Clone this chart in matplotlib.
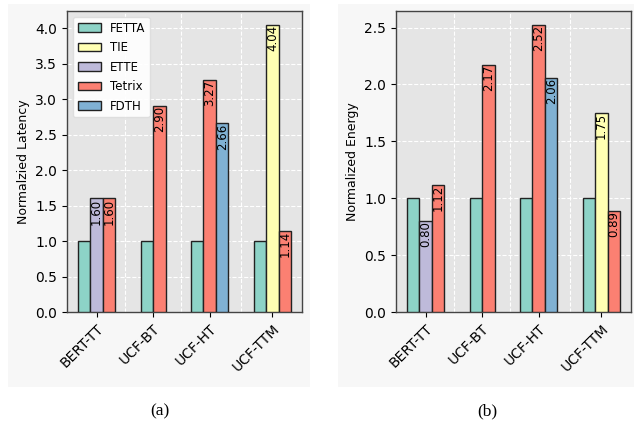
import matplotlib
matplotlib.use("Agg")
import matplotlib.pyplot as plt
import numpy as np
from matplotlib.patches import Rectangle

categories = ["BERT-TT", "UCF-BT", "UCF-HT", "UCF-TTM"]
series = ["FETTA", "TIE", "ETTE", "Tetrix", "FDTH"]
colors = ["#8dd3c7", "#ffffb3", "#bebada", "#fb8072", "#80b1d3"]

# None = no bar for that method on that workload
latency = {
    "FETTA":  [1.00, 1.00, 1.00, 1.00],
    "TIE":    [None, None, None, 4.04],
    "ETTE":   [1.60, None, None, None],
    "Tetrix": [1.60, 2.90, 3.27, 1.14],
    "FDTH":   [None, None, 2.66, None],
}
energy = {
    "FETTA":  [1.00, 1.00, 1.00, 1.00],
    "TIE":    [None, None, None, 1.75],
    "ETTE":   [0.80, None, None, None],
    "Tetrix": [1.12, 2.17, 2.52, 0.89],
    "FDTH":   [None, None, 2.06, None],
}

W, H = 634, 422
fig = plt.figure(figsize=(W / 100, H / 100), dpi=100)
fig.patch.set_facecolor("white")

panel_color = "#f7f7f7"
fig.patches.append(Rectangle((8 / W, 1 - 387 / H), 302 / W, 383 / H,
                             transform=fig.transFigure, facecolor=panel_color,
                             edgecolor="none", zorder=-10))
fig.patches.append(Rectangle((338 / W, 1 - 387 / H), 300 / W, 383 / H,
                             transform=fig.transFigure, facecolor=panel_color,
                             edgecolor="none", zorder=-10))

ax_w = 235 / W
ax_b = 1 - 312 / H
ax_h = (312 - 11) / H
ax1 = fig.add_axes([67 / W, ax_b, ax_w, ax_h])
ax2 = fig.add_axes([396 / W, ax_b, ax_w, ax_h])


def draw(ax, data, ylabel, legend):
    ax.set_facecolor("#e5e5e5")
    slot = 0
    centers = []
    handles = {}
    for gi, cat in enumerate(categories):
        present = [s for s in series if data[s][gi] is not None]
        xs = list(range(slot, slot + len(present)))
        centers.append(np.mean(xs))
        for s, x in zip(present, xs):
            v = data[s][gi]
            b = ax.bar(x, v, width=1.0, color=colors[series.index(s)],
                       edgecolor="#222222", linewidth=1.0, zorder=3)
            handles[s] = b
            if s != "FETTA":
                ax.text(x, v, f"{v:.2f}",
                        rotation=90, ha="center", va="top", fontsize=8.5,
                        zorder=4)
        slot += len(present) + 2
    ax.set_xticks(centers)
    ax.set_xticklabels(categories, rotation=45, ha="right",
                       rotation_mode="anchor", fontsize=10)
    mids = [(centers[i] + centers[i + 1]) / 2 for i in range(len(centers) - 1)]
    ax.set_xticks(mids, minor=True)
    ax.tick_params(axis="x", which="minor", length=0)
    ax.grid(True, axis="y", which="major", color="white", linestyle="--",
            linewidth=0.8, zorder=0)
    ax.grid(True, axis="x", which="minor", color="white", linestyle="--",
            linewidth=0.8, zorder=0)
    ax.set_axisbelow(True)
    ax.set_ylabel(ylabel, fontsize=9)
    ax.tick_params(axis="y", labelsize=10)
    for sp in ax.spines.values():
        sp.set_color("#444444")
        sp.set_linewidth(1.0)
    if legend:
        ax.legend([handles[s] for s in series], series, loc="upper left",
                  fontsize=8.5, framealpha=0.9, facecolor="white",
                  edgecolor="#dddddd", handlelength=2.0, labelspacing=0.55,
                  handletextpad=0.7, borderpad=0.4)


draw(ax1, latency, "Normalzied Latency", True)
draw(ax2, energy, "Normalized Energy", False)
ax1.set_ylim(0, 4.04 * 1.05)
ax2.set_ylim(0, 2.52 * 1.05)
ax1.set_yticks(np.arange(0, 4.01, 0.5))
ax2.set_yticks(np.arange(0, 2.51, 0.5))

fig.text(160 / W, 1 - 411 / H, "(a)", ha="center", va="center",
         fontsize=12.5, family="Liberation Serif")
fig.text(487 / W, 1 - 411 / H, "(b)", ha="center", va="center",
         fontsize=12.5, family="Liberation Serif")

fig.savefig("out.png", dpi=100, facecolor="white")
